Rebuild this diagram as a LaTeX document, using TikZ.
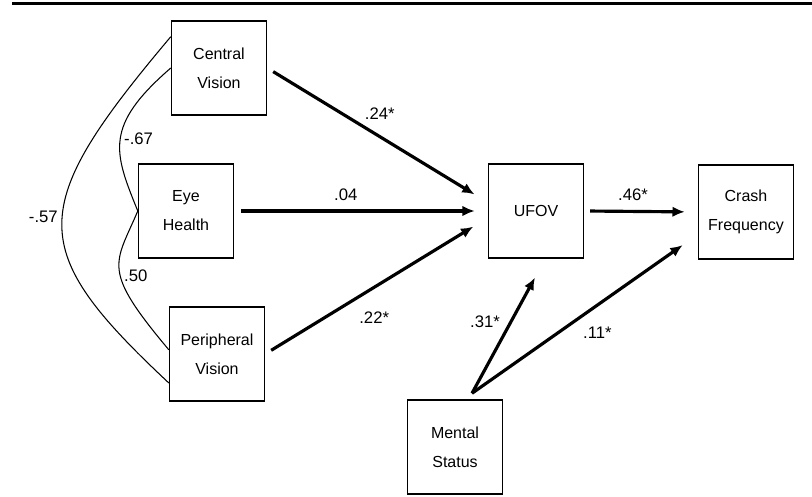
\documentclass[tikz,border=0pt]{standalone}
\usepackage{fontspec}
\setmainfont{Liberation Sans}
\usetikzlibrary{arrows.meta}
\tikzset{
  var/.style = {rectangle, draw, line width = 0.8pt, minimum width = 1.9cm, minimum height = 1.88cm, inner sep = 0pt, align = center, font = \fontsize{9.1}{16.5}\selectfont},
  coef/.style = {font = \fontsize{9.5}{11}\selectfont, inner sep = 2pt},
  effect/.style = {-{Latex[length=7pt, width=6pt]}, line width = 1.8pt},
  corr/.style = {line width = 0.6pt}
}
\begin{document}
\begin{tikzpicture}
\useasboundingbox (0,0) rectangle (16.24,9.94);
\draw [line width = 1.7pt] (0.24,9.87) -- (16.24,9.87);
\draw (4.38,8.58) node[var](cv){Central\\Vision}
    (3.72,5.72) node[var](eh){Eye\\Health}
    (4.34,2.86) node[var](pv){Peripheral\\Vision}
    (10.72,5.72) node[var](uf){UFOV}
    (14.92,5.70) node[var](cf){Crash\\Frequency}
    (9.10,1.00) node[var](ms){Mental\\Status};
    \path (ms.north) ++(0.34,0.12) coordinate (ms0);
    % paths into UFOV
    \draw [effect, shorten <= 0.14cm, shorten >= 0.31cm] (cv.east) -- (uf.170) node[coef, pos=0.42, above right] {.24*};
    \draw [effect, shorten <= 0.14cm, shorten >= 0.26cm] (eh.east) -- (uf.west) node[coef, pos=0.44, above=3pt] {.04};
    \draw [effect, shorten <= 0.14cm, shorten >= 0.34cm] (pv.east) -- (uf.188) node[coef, pos=0.4, below right, yshift=-4pt] {.22*};
    \draw [effect, shorten <= 0.12cm, shorten >= 0.26cm] (uf.east) -- (cf.west) node[coef, pos=0.43, above=3pt] {.46*};
    \draw [effect, shorten >= 0.43cm] (ms0) -- (uf.281) node[coef, pos=0.45, above left] {.31*};
    \draw [effect, shorten >= 0.37cm] (ms0) -- (cf.205) node[coef, pos=0.47, below right, yshift=-2pt] {.11*};
    % correlations
    \draw [corr] (cv.147) .. controls +(-2.9,-3.44) and +(-2.86,2.68) .. (pv.211) node[coef, pos=0.5, left, yshift=4pt] {-.57};
    \draw [corr] (cv.west) .. controls +(-1.34,-1.16) and +(-0.48,1.18) .. (eh.west) node[coef, pos=0.5, right] {-.67};
    \draw [corr] (eh.west) .. controls +(-0.46,-1.08) and +(-1.36,1.62) .. (pv.175) node[coef, pos=0.55, right] {.50};
\end{tikzpicture}
\end{document}
